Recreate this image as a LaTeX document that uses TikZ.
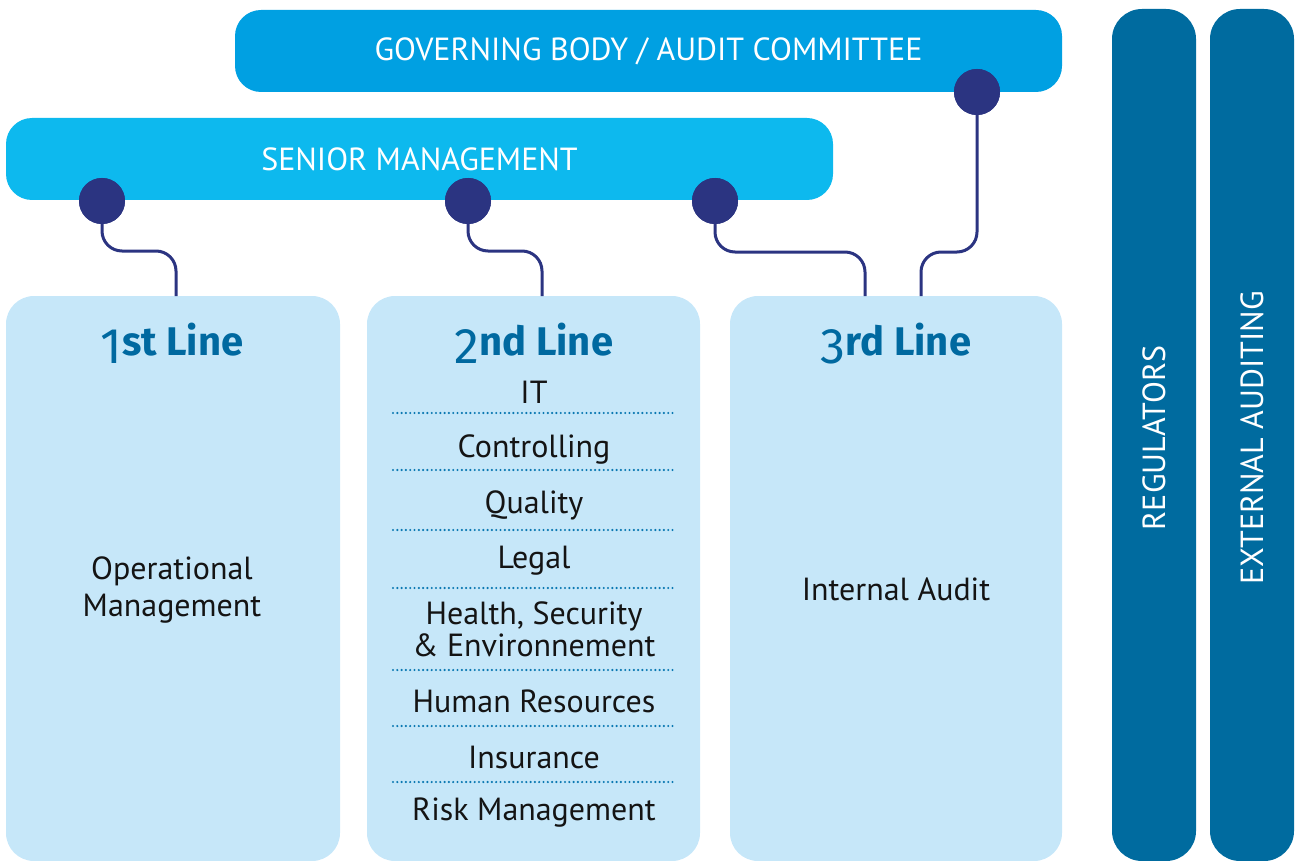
\documentclass[tikz,border=0pt]{standalone}
\usepackage{fontspec}
\setmainfont{PT Sans}
\newfontfamily\headfont{Fira Sans}
\definecolor{govblue}{HTML}{00A0E2}
\definecolor{senblue}{HTML}{0DB9EE}
\definecolor{lightbox}{HTML}{C6E7F9}
\definecolor{darkbar}{HTML}{006B9F}
\definecolor{navy}{HTML}{2B3481}
\definecolor{dotline}{HTML}{0A78B2}
\definecolor{headc}{HTML}{0069A0}
\tikzset{
  topbar/.style={rounded corners=26pt, minimum width=827pt, minimum height=82pt, inner sep=0pt, text=white, font=\fontsize{32}{36}\selectfont},
  linebox/.style={fill=lightbox, rounded corners=28pt, minimum height=565pt, inner sep=0pt},
  sidebar/.style={fill=darkbar, rounded corners=30pt, minimum width=84pt, minimum height=852pt, inner sep=0pt},
  sidetext/.style={rotate=90, text=white, font=\fontsize{32}{36}\selectfont},
  dotnode/.style={circle, fill=navy, minimum size=46pt, inner sep=0pt},
  conn/.style={draw=navy, line width=3pt, rounded corners=20pt},
  heading/.style={anchor=base, text=headc, font=\headfont\bfseries\fontsize{40}{44}\selectfont},
  itemtext/.style={text=black!92, font=\fontsize{32}{32}\selectfont, align=center},
  sep/.style={draw=dotline, line width=2.4pt, line cap=round, dash pattern=on 0pt off 4.3pt},
}
\newcommand{\bignum}[1]{\raisebox{-8pt}{\fontsize{50}{50}\selectfont\mdseries #1}}
\begin{document}
\begin{tikzpicture}[x=1pt,y=-1pt]
\useasboundingbox (0,0) rectangle (1298,861);
% right bars
\node[sidebar] (reg) at (1154,435) {};
\node[sidebar] (ext) at (1252,435) {};
\node[sidetext] (regt) at (1154,438) {REGULATORS};
\node[sidetext] (extt) at (1252,438) {EXTERNAL AUDITING};
% top bars
\node[topbar, fill=govblue] (gov) at (648.5,51) {GOVERNING BODY / AUDIT COMMITTEE};
\node[topbar, fill=senblue] (sen) at (419.5,159) {SENIOR MANAGEMENT};
% line boxes
\node[linebox, minimum width=334pt] (l1) at (173,578.5) {};
\node[linebox, minimum width=333pt] (l2) at (533.5,578.5) {};
\node[linebox, minimum width=332pt] (l3) at (896,578.5) {};
% connector end points on the boxes
\coordinate (c1) at (176,296);
\coordinate (c2) at (542,296);
\coordinate (c3) at (865,296);
\coordinate (c4) at (921,296);
% dots
\node[dotnode] (d1) at (102,201) {};
\node[dotnode] (d2) at (468,201) {};
\node[dotnode] (d3) at (715,201) {};
\node[dotnode] (d4) at (977,92) {};
% connectors
\draw[conn] (d1.center) -- (d1.center |- 0,251) -- (c1 |- 0,251) -- (c1);
\draw[conn] (d2.center) -- (d2.center |- 0,251) -- (c2 |- 0,251) -- (c2);
\draw[conn] (d3.center) -- (d3.center |- 0,252) -- (c3 |- 0,252) -- (c3);
\draw[conn] (d4.center) -- (d4.center |- 0,252) -- (c4 |- 0,252) -- (c4);
% redraw dots on top
\node[dotnode] at (d1) {};
\node[dotnode] at (d2) {};
\node[dotnode] at (d3) {};
\node[dotnode] at (d4) {};
% headings
\node[heading] (h1) at (172,355) {\bignum{1}st Line};
\node[heading] (h2) at (534,355) {\bignum{2}nd Line};
\node[heading] (h3) at (896,355) {\bignum{3}rd Line};
% first line
\node[itemtext, font=\fontsize{32}{37}\selectfont] (op) at (172,590) {Operational\\Management};
% third line
\node[itemtext] (ia) at (896,589) {Internal Audit};
% second line items
\node[itemtext] (i1) at (534,392) {IT};
\node[itemtext] (i2) at (534,449) {Controlling};
\node[itemtext] (i3) at (534,505) {Quality};
\node[itemtext] (i4) at (534,561) {Legal};
\node[itemtext] (i5) at (534,629) {Health, Security\\\& Environnement};
\node[itemtext] (i6) at (534,701) {Human Resources};
\node[itemtext] (i7) at (534,757) {Insurance};
\node[itemtext] (i8) at (534,813) {Risk Management};
% separators
\foreach \y/\n in {413/s1,470/s2,530/s3,588/s4,670/s5,726/s6,782/s7}{
  \coordinate (\n a) at (393,\y);
  \coordinate (\n b) at (676,\y);
  \draw[sep] (\n a) -- (\n b);
}
\end{tikzpicture}
\end{document}
